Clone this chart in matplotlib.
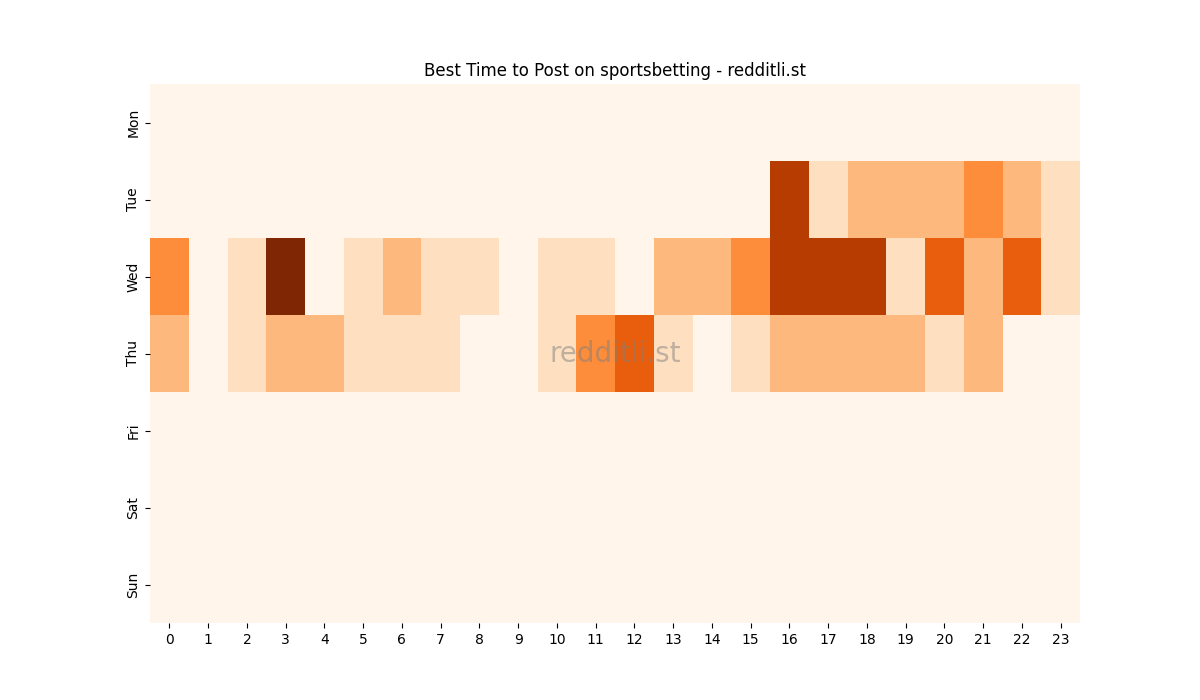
import numpy as np
import pandas as pd
import matplotlib
matplotlib.use('Agg')
import matplotlib.pyplot as plt
import seaborn as sns

days = ['Mon', 'Tue', 'Wed', 'Thu', 'Fri', 'Sat', 'Sun']
hours = list(range(24))

mon = [0] * 24
tue = [0, 0, 0, 0, 0, 0, 0, 0, 0, 0, 0, 0, 0, 0, 0, 0, 5, 1, 2, 2, 2, 3, 2, 1]
wed = [3, 0, 1, 6, 0, 1, 2, 1, 1, 0, 1, 1, 0, 2, 2, 3, 5, 5, 5, 1, 4, 2, 4, 1]
thu = [2, 0, 1, 2, 2, 1, 1, 1, 0, 0, 1, 3, 4, 1, 0, 1, 2, 2, 2, 2, 1, 2, 0, 0]
fri = [0] * 24
sat = [0] * 24
sun = [0] * 24

df = pd.DataFrame([mon, tue, wed, thu, fri, sat, sun], index=days, columns=hours)

fig, ax = plt.subplots(figsize=(12, 7))
sns.heatmap(df, cmap='Oranges', cbar=False, ax=ax)
ax.set_title('Best Time to Post on sportsbetting - redditli.st')
ax.set_xlabel('')
ax.set_ylabel('')

# watermark
ax.text(0.5, 0.5, 'redditli.st', transform=ax.transAxes, fontsize=20,
        color='gray', alpha=0.5, ha='center', va='center')

plt.savefig('out.png', dpi=100)
plt.close()
